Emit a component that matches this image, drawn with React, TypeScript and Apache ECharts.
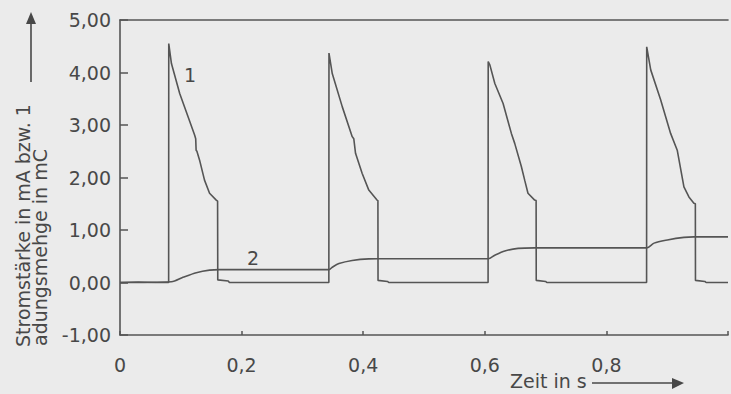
import React, { useEffect, useRef } from "react";
import * as echarts from "echarts";

// Time ticks (s) and value ticks
const xTicks = [0, 0.2, 0.4, 0.6, 0.8, 1.0];
const yTicks = [-1, 0, 1, 2, 3, 4, 5];

// Curve 1: Stromstärke (mA) — [t, I]
const current: [number, number][] = [
  [0, 0], [0.03, 0.01], [0.06, 0], [0.08, 0],
  [0.0802, 4.55], [0.0846, 4.17], [0.0982, 3.6], [0.1118, 3.16], [0.1227, 2.81],
  [0.1245, 2.74], [0.1252, 2.52], [0.1265, 2.5], [0.1309, 2.33], [0.139, 1.95],
  [0.1473, 1.7], [0.1583, 1.57], [0.1605, 1.55], [0.1608, 0.05], [0.178, 0.03],
  [0.18, 0], [0.3435, 0],
  [0.3437, 4.37], [0.3491, 3.98], [0.3655, 3.35], [0.3818, 2.78], [0.3845, 2.74],
  [0.3874, 2.46], [0.3982, 2.08], [0.4092, 1.76], [0.4227, 1.57], [0.4242, 1.56],
  [0.4244, 0.04], [0.44, 0.02], [0.442, 0], [0.6054, 0],
  [0.6056, 4.21], [0.6084, 4.14], [0.6165, 3.79], [0.6301, 3.41], [0.6437, 2.84],
  [0.6492, 2.65], [0.6601, 2.21], [0.6656, 1.95], [0.671, 1.7], [0.682, 1.57],
  [0.6844, 1.56], [0.6846, 0.04], [0.70, 0.02], [0.702, 0], [0.8661, 0],
  [0.8663, 4.49], [0.8729, 4.05], [0.8892, 3.48], [0.9056, 2.84], [0.9165, 2.52],
  [0.9275, 1.82], [0.9357, 1.63], [0.9439, 1.51], [0.9463, 1.5], [0.9465, 0.04],
  [0.962, 0.02], [0.964, 0], [1.0, 0],
];

// Curve 2: Ladungsmenge (mC) — [t, Q]
const charge: [number, number][] = [
  [0, 0], [0.0846, 0.015], [0.1036, 0.1], [0.1255, 0.187], [0.1473, 0.235],
  [0.1637, 0.245], [0.3437, 0.245],
  [0.3491, 0.29], [0.3601, 0.36], [0.3818, 0.42], [0.4092, 0.45], [0.4244, 0.452],
  [0.6056, 0.452],
  [0.6165, 0.52], [0.6329, 0.6], [0.6547, 0.65], [0.682, 0.66], [0.8663, 0.66],
  [0.8784, 0.75], [0.9002, 0.81], [0.9275, 0.86], [0.9439, 0.87], [1.0, 0.87],
];

const yTitle1 = "Stromstärke in mA bzw. 1";
const yTitle2 = "adungsmehge in mC";
const xTitle = "Zeit in s";
const curveLabels = ["1", "2"];

const INK = "#484848";
const LINE = "#555555";
const FONT = "'DejaVu Sans', 'Liberation Sans', sans-serif";

export default function App() {
  const ref = useRef<HTMLDivElement>(null);
  useEffect(() => {
    if (!ref.current) return;
    const chart = echarts.init(ref.current, null, { renderer: "svg" });
    const comma = (s: string) => s.replace(".", ",");
    chart.setOption({
      animation: false,
      backgroundColor: "#ebebeb",
      textStyle: { fontFamily: FONT },
      grid: { left: 120, right: 0, top: 20, bottom: 59, containLabel: false },
      xAxis: [
        {
          type: "value",
          min: xTicks[0],
          max: xTicks[xTicks.length - 1],
          interval: 0.2,
          axisLine: { show: true, onZero: false, lineStyle: { color: LINE, width: 1.6 } },
          axisTick: { show: true, inside: true, length: 4, lineStyle: { color: LINE, width: 1.5 } },
          axisLabel: {
            color: INK,
            fontSize: 19,
            fontFamily: FONT,
            margin: 20,
            formatter: (v: number) => (v === 0 ? "0" : v >= 1 ? "" : comma(v.toFixed(1))),
          },
          splitLine: { show: false },
        },
        {
          type: "value",
          position: "top",
          min: 0,
          max: 1,
          axisLine: { show: true, onZero: false, lineStyle: { color: LINE, width: 1.6 } },
          axisTick: { show: false },
          axisLabel: { show: false },
          splitLine: { show: false },
        },
      ],
      yAxis: {
        type: "value",
        min: yTicks[0],
        max: yTicks[yTicks.length - 1],
        interval: 1,
        axisLine: { show: true, onZero: false, lineStyle: { color: LINE, width: 1.6 } },
        axisTick: { show: true, inside: true, length: 8, lineStyle: { color: LINE, width: 1.5 } },
        axisLabel: {
          color: INK,
          fontSize: 19,
          fontFamily: FONT,
          margin: 9,
          formatter: (v: number) => comma(v.toFixed(2)),
        },
        splitLine: { show: false },
      },
      series: [
        {
          name: "1",
          type: "line",
          data: current,
          showSymbol: false,
          lineStyle: { color: LINE, width: 1.6 },
          z: 3,
        },
        {
          name: "2",
          type: "line",
          data: charge,
          showSymbol: false,
          smooth: 0.3,
          lineStyle: { color: LINE, width: 1.6 },
          z: 2,
        },
      ],
      graphic: [
        { type: "line", shape: { x1: 31, y1: 82, x2: 31, y2: 20 }, style: { stroke: INK, lineWidth: 1.6 } },
        { type: "polygon", shape: { points: [[26, 24], [36, 24], [31, 12]] }, style: { fill: INK } },
        {
          type: "text", x: 23, y: 347, rotation: Math.PI / 2,
          style: { text: yTitle1, fill: INK, font: `19px ${FONT}`, textAlign: "left", textVerticalAlign: "middle" },
        },
        {
          type: "text", x: 40, y: 346, rotation: Math.PI / 2,
          style: { text: yTitle2, fill: INK, font: `19px ${FONT}`, textAlign: "left", textVerticalAlign: "middle" },
        },
        {
          type: "text", x: 510, y: 381,
          style: { text: xTitle, fill: INK, font: `19px ${FONT}`, textAlign: "left", textVerticalAlign: "middle" },
        },
        { type: "line", shape: { x1: 592, y1: 383, x2: 676, y2: 383 }, style: { stroke: INK, lineWidth: 1.6 } },
        { type: "polygon", shape: { points: [[672, 378], [672, 389], [684, 383]] }, style: { fill: INK } },
        {
          type: "text", x: 190, y: 75,
          style: { text: curveLabels[0], fill: INK, font: `19px ${FONT}`, textAlign: "center", textVerticalAlign: "middle" },
        },
        {
          type: "text", x: 253, y: 258,
          style: { text: curveLabels[1], fill: INK, font: `19px ${FONT}`, textAlign: "center", textVerticalAlign: "middle" },
        },
      ],
    });
    return () => chart.dispose();
  }, []);
  return (
    <div
      ref={ref}
      style={{ position: "fixed", left: 0, top: 0, width: 731, height: 394 }}
    />
  );
}
